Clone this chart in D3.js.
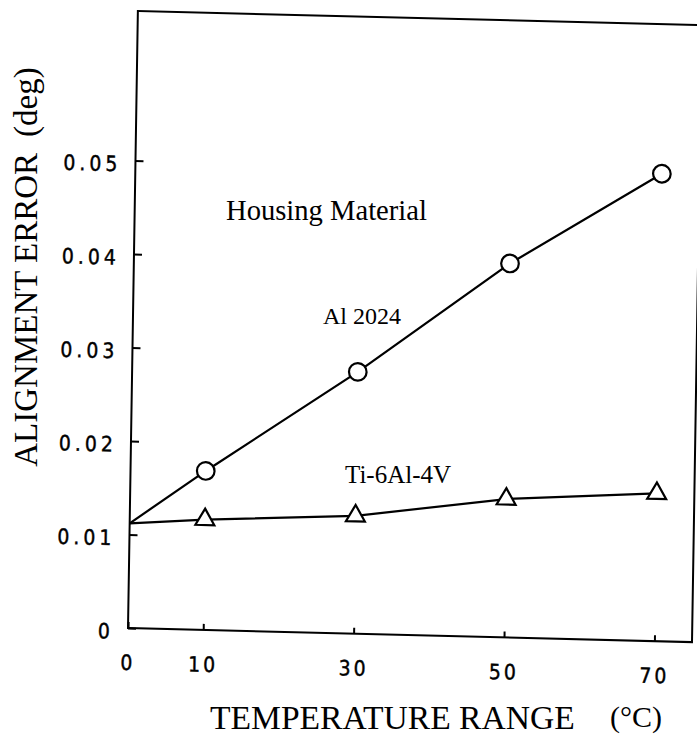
<!DOCTYPE html>
<html>
<head>
<meta charset="utf-8">
<script src="https://cdn.jsdelivr.net/npm/d3@7"></script>
<style>
  html, body { margin: 0; padding: 0; background: #fff; }
  svg { display: block; }
</style>
</head>
<body>
<div id="chart"></div>
<script>
// ---- data ----
const temperatures = [10, 30, 50, 70];
const startTemp = 0;
const startError = 0.0112;
const al2024 = [0.0170, 0.0280, 0.0400, 0.0500];
const ti6al4v = [0.0118, 0.0126, 0.0148, 0.0158];
const xTicks = [0, 10, 30, 50, 70];
const yTicks = [0, 0.01, 0.02, 0.03, 0.04, 0.05];
const yTickLabels = ["0", "0.01", "0.02", "0.03", "0.04", "0.05"];
const seriesNames = ["Al 2024", "Ti-6Al-4V"];

// ---- layout ----
const W = 697, H = 739;
const plotW = 564, plotH = 617;
const svg = d3.select("#chart").append("svg").attr("width", W).attr("height", H);

const x = d3.scaleLinear().domain([0, 75]).range([0, plotW]);
const y = d3.scaleLinear().domain([0, 0.066]).range([plotH, 0]);

// slightly skewed like the scanned original
const g = svg.append("g")
  .attr("transform", `translate(128,628) matrix(1,0.025,-0.016,1,0,0) translate(0,${-plotH})`);

const tickFont = "'Liberation Sans Narrow','DejaVu Sans Condensed','Liberation Sans',sans-serif";

// axes
const yAxis = d3.axisLeft(y).tickValues(yTicks)
  .tickFormat((d, i) => yTickLabels[i]).tickSizeInner(-8).tickSizeOuter(0).tickPadding(14);
const yg = g.append("g").call(yAxis);
yg.select(".domain").remove();
yg.selectAll(".tick line").attr("stroke", "#000").attr("stroke-width", 2);
yg.selectAll(".tick text").attr("font-family", tickFont).attr("font-size", 21)
  .attr("letter-spacing", 4).attr("fill", "#000").attr("stroke", "#000").attr("stroke-width", 0.4)
  .attr("dy", "0.5em");

const xAxis = d3.axisBottom(x).tickValues(xTicks).tickFormat(d3.format("d"))
  .tickSizeInner(-6).tickSizeOuter(0).tickPadding(27);
const xg = g.append("g").attr("transform", `translate(0,${plotH})`).call(xAxis);
xg.select(".domain").remove();
xg.selectAll(".tick line").attr("stroke", "#000").attr("stroke-width", 2);
xg.selectAll(".tick text").attr("font-family", tickFont).attr("font-size", 21)
  .attr("letter-spacing", 3).attr("fill", "#000").attr("stroke", "#000").attr("stroke-width", 0.4);

// frame
g.append("rect").attr("x", 0).attr("y", 0).attr("width", plotW).attr("height", plotH)
  .attr("fill", "none").attr("stroke", "#000").attr("stroke-width", 2);

// lines
const line = d3.line().x(d => x(d[0])).y(d => y(d[1]));
const alPts = [[startTemp, startError]].concat(temperatures.map((t, i) => [t, al2024[i]]));
const tiPts = [[startTemp, startError]].concat(temperatures.map((t, i) => [t, ti6al4v[i]]));
g.append("path").attr("d", line(alPts)).attr("fill", "none").attr("stroke", "#000").attr("stroke-width", 2.2);
g.append("path").attr("d", line(tiPts)).attr("fill", "none").attr("stroke", "#000").attr("stroke-width", 2.2);

// markers
g.selectAll("circle.al").data(temperatures).join("circle").attr("class", "al")
  .attr("cx", d => x(d)).attr("cy", (d, i) => y(al2024[i])).attr("r", 8.8)
  .attr("fill", "#fff").attr("stroke", "#000").attr("stroke-width", 2.2);

const tri = d3.symbol().type(d3.symbolTriangle).size(155);
g.selectAll("path.ti").data(temperatures).join("path").attr("class", "ti")
  .attr("d", tri).attr("transform", (d, i) => `translate(${x(d)},${y(ti6al4v[i])})`)
  .attr("fill", "#fff").attr("stroke", "#000").attr("stroke-width", 2.2);

// annotations
const serif = "'Liberation Serif','Times New Roman',serif";
svg.append("text").attr("x", 226).attr("y", 220).attr("font-family", serif)
  .attr("font-size", 28.6).text("Housing Material");
svg.append("text").attr("x", 323).attr("y", 324).attr("font-family", serif)
  .attr("font-size", 24).text(seriesNames[0]);
svg.append("text").attr("x", 345).attr("y", 483).attr("font-family", serif)
  .attr("font-size", 25).text(seriesNames[1]);

// axis titles
const yt = svg.append("text").attr("transform", "translate(37,267) rotate(-90)")
  .attr("text-anchor", "middle").attr("font-family", serif).attr("font-size", 33);
yt.append("tspan").text("ALIGNMENT ERROR");
yt.append("tspan").attr("dx", 16).text("(deg)");

svg.append("text").attr("x", 210).attr("y", 729).attr("font-family", serif)
  .attr("font-size", 33.6).text("TEMPERATURE RANGE");
svg.append("text").attr("x", 610).attr("y", 727).attr("font-family", serif)
  .attr("font-size", 30).text("(°C)");
</script>
</body>
</html>
